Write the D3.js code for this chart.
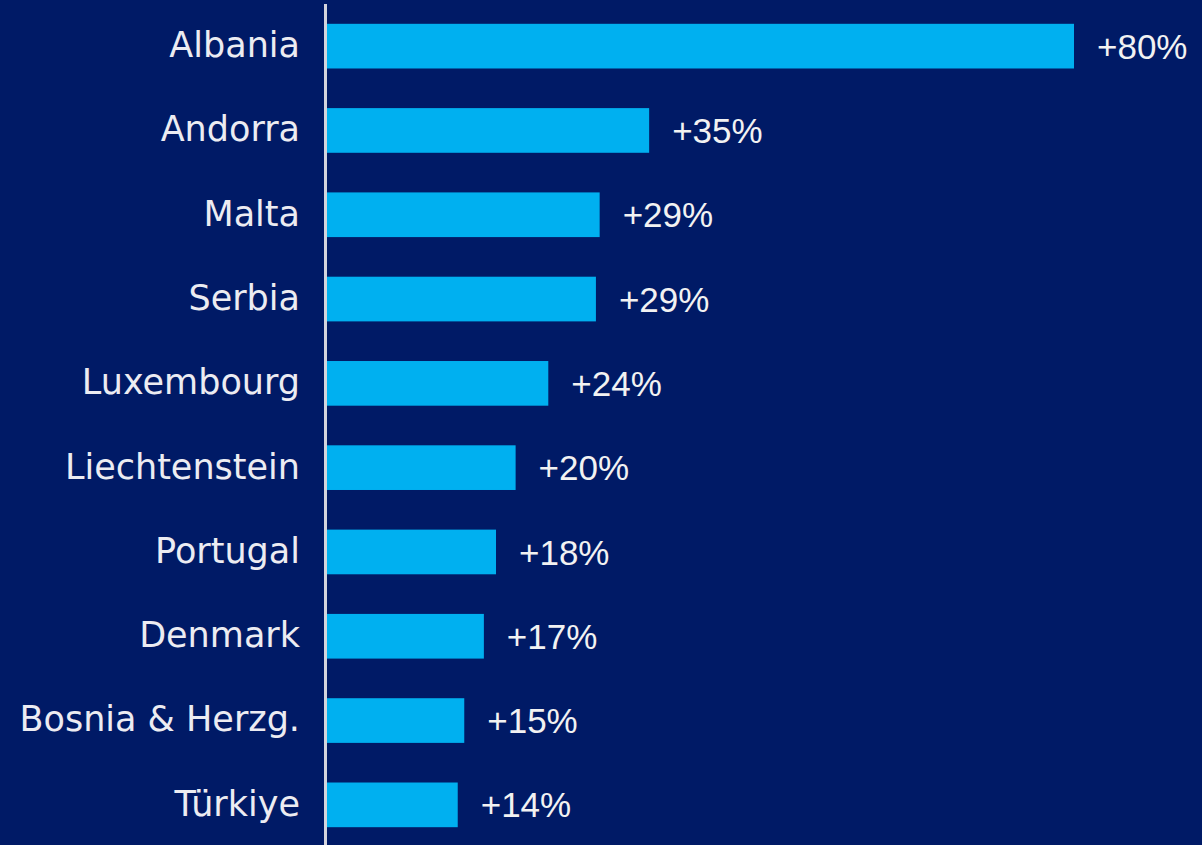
<!DOCTYPE html>
<html><head><meta charset="utf-8">
<script src="https://cdn.jsdelivr.net/npm/d3@7"></script>
<style>html,body{margin:0;padding:0;background:#001a66;}svg{display:block;}</style>
</head><body>
<script>
const categories = ["Albania","Andorra","Malta","Serbia","Luxembourg","Liechtenstein","Portugal","Denmark","Bosnia & Herzg.","Türkiye"];
const values = [80.0, 34.5, 29.2, 28.8, 23.7, 20.2, 18.1, 16.8, 14.7, 14.0];
const valueLabels = ["+80%","+35%","+29%","+29%","+24%","+20%","+18%","+17%","+15%","+14%"];

const W = 1202, H = 845;
const x0 = 327;
const svg = d3.select("body").append("svg").attr("width", W).attr("height", H);
svg.append("rect").attr("width", W).attr("height", H).attr("fill", "#001a66");

const x = d3.scaleLinear().domain([0, 80]).range([x0, 1074]);
const y = d3.scaleBand().domain(categories).range([4, 847]).paddingInner(0.47).paddingOuter(0.235);

svg.selectAll("rect.bar").data(categories).enter().append("rect")
  .attr("class","bar")
  .attr("x", x(0))
  .attr("y", d => y(d))
  .attr("width", (d,i) => x(values[i]) - x(0))
  .attr("height", y.bandwidth())
  .attr("fill", "#00b0f0");

svg.append("line").attr("x1", 325.5).attr("x2", 325.5).attr("y1", 4).attr("y2", H)
  .attr("stroke", "#d4d4dc").attr("stroke-width", 3);

svg.selectAll("text.cat").data(categories).enter().append("text")
  .attr("class","cat")
  .attr("x", 300)
  .attr("y", d => y(d) + y.bandwidth()/2)
  .attr("dy", "0.31em")
  .attr("text-anchor", "end")
  .attr("fill", "#ececf2")
  .style("font-family", "'DejaVu Sans', sans-serif")
  .style("font-size", "35px")
  .text(d => d);

svg.selectAll("text.val").data(categories).enter().append("text")
  .attr("class","val")
  .attr("x", (d,i) => x(values[i]) + 23)
  .attr("y", d => y(d) + y.bandwidth()/2)
  .attr("dy", "0.36em")
  .attr("fill", "#f2f2f2")
  .style("font-family", "'Liberation Sans', Arial, sans-serif")
  .style("font-size", "35px")
  .text((d,i) => valueLabels[i]);
</script>
</body></html>
